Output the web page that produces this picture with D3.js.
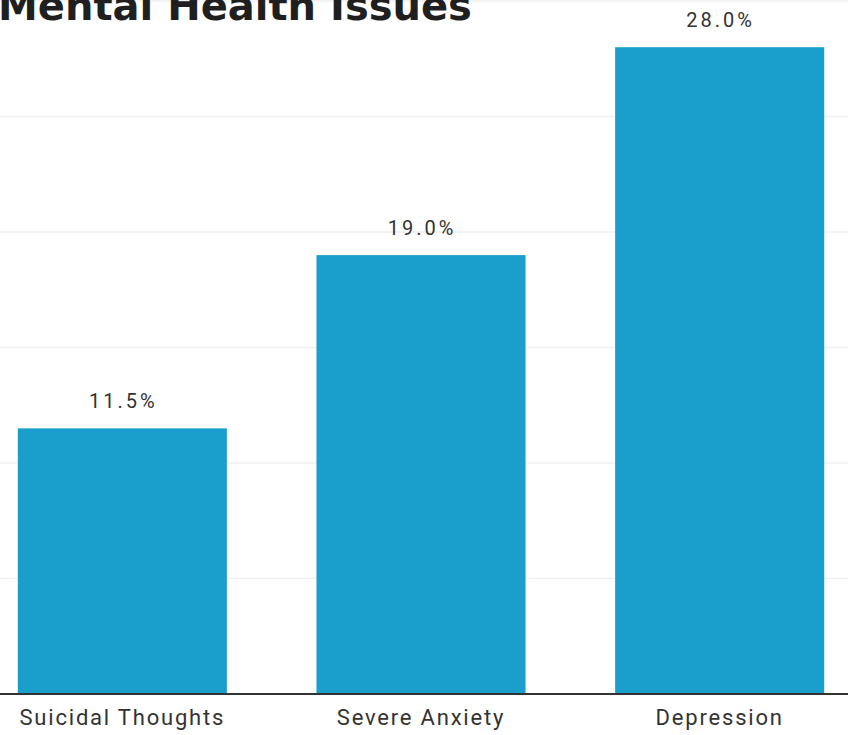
<!DOCTYPE html>
<html>
<head>
<meta charset="utf-8">
<script src="https://cdn.jsdelivr.net/npm/d3@7"></script>
<style>
  body { margin: 0; background: #fff; }
  svg { display: block; }
</style>
</head>
<body>
<script>
// chart data
var categories = ['Suicidal Thoughts', 'Severe Anxiety', 'Depression'];
var values = [11.5, 19.0, 28.0];
var gridTicks = [5, 10, 15, 20, 25, 30];

var width = 848, height = 735;

var svg = d3.select('body').append('svg')
    .attr('width', width)
    .attr('height', height);

// x band scale, spills a bit past the picture edges like the reference crop
var x = d3.scaleBand()
    .domain(categories)
    .range([-27, 869])
    .paddingInner(0.3)
    .paddingOuter(0.15);

var y = d3.scaleLinear()
    .domain([0, 30])
    .range([694, 1]);

// light gridlines
svg.append('g')
    .selectAll('line')
    .data(gridTicks)
    .enter().append('line')
    .attr('x1', 0)
    .attr('x2', width)
    .attr('y1', function(d) { return y(d); })
    .attr('y2', function(d) { return y(d); })
    .attr('stroke', '#efefef')
    .attr('stroke-width', 1.5);

// bars
svg.append('g')
    .selectAll('rect')
    .data(values)
    .enter().append('rect')
    .attr('x', function(d, i) { return x(categories[i]); })
    .attr('y', function(d) { return y(d); })
    .attr('width', x.bandwidth())
    .attr('height', function(d) { return y(0) - y(d); })
    .attr('fill', '#1a9fcd');

// value labels
svg.append('g')
    .selectAll('text')
    .data(values)
    .enter().append('text')
    .attr('x', function(d, i) { return x(categories[i]) + x.bandwidth() / 2 + 1; })
    .attr('y', function(d) { return y(d) - 20; })
    .attr('text-anchor', 'middle')
    .style('font-family', 'Roboto, sans-serif')
    .style('font-size', '20px')
    .style('letter-spacing', '3px')
    .style('fill', '#333')
    .text(function(d) { return d.toFixed(1) + '%'; });

// baseline + category labels
var xAxis = d3.axisBottom(x).tickSize(0).tickPadding(15);
var ax = svg.append('g')
    .attr('transform', 'translate(0,' + y(0) + ')')
    .call(xAxis);
ax.select('.domain').remove();
ax.append('line')
    .attr('x1', 0)
    .attr('x2', width)
    .attr('stroke', '#333')
    .attr('stroke-width', 2);
ax.selectAll('text')
    .style('font-family', 'Roboto, sans-serif')
    .style('font-size', '22px')
    .style('letter-spacing', '1.8px')
    .style('fill', '#333');

// title, cut off at the top
svg.append('text')
    .attr('x', -2)
    .attr('y', 20)
    .style('font-family', '"DejaVu Sans", sans-serif')
    .style('font-weight', 'bold')
    .style('font-size', '40px')
    .style('fill', '#1f1f1f')
    .text('Mental Health Issues');
</script>
</body>
</html>
